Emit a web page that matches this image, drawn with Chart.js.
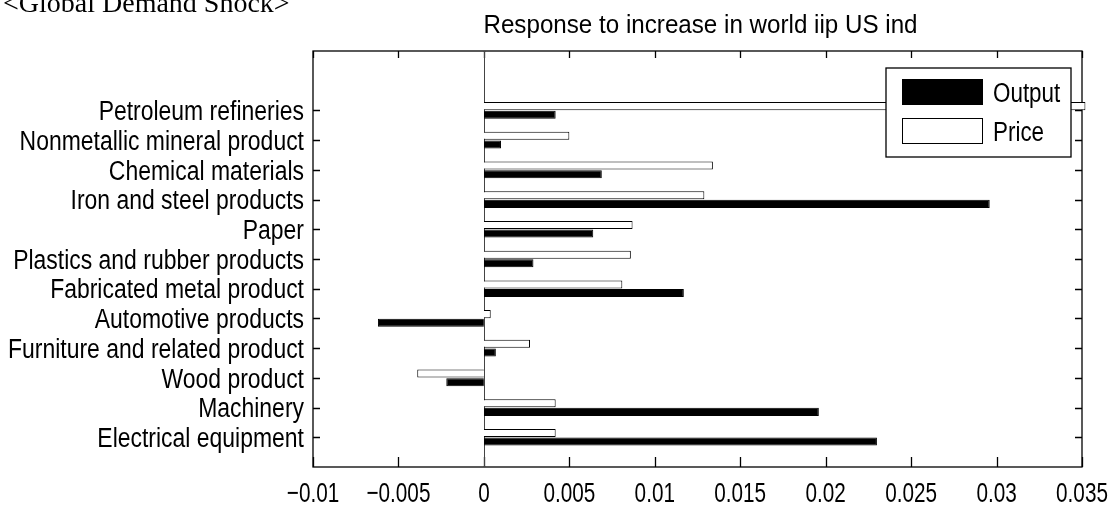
<!DOCTYPE html>
<html><head><meta charset="utf-8">
<script src="https://cdn.jsdelivr.net/npm/chart.js@4"></script>
<style>html,body{margin:0;padding:0;background:#fff;overflow:hidden}#wrap{width:1113px;height:508px}</style>
</head><body><div id="wrap"><canvas id="c" width="1113" height="508"></canvas></div>
<script>
const categories = ['Petroleum refineries','Nonmetallic mineral product','Chemical materials','Iron and steel products','Paper','Plastics and rubber products','Fabricated metal product','Automotive products','Furniture and related product','Wood product','Machinery','Electrical equipment'];
const outputValues = [0.0042,0.0010,0.0069,0.0296,0.0064,0.0029,0.0117,-0.0062,0.0007,-0.0022,0.0196,0.0230];
const priceValues = [0.0352,0.0050,0.0134,0.0129,0.0087,0.0086,0.0081,0.0004,0.0027,-0.0039,0.0042,0.0042];
const xTicks = [-0.01,-0.005,0,0.005,0.01,0.015,0.02,0.025,0.03,0.035];
const seriesNames = ['Output','Price'];
const chartTitle = 'Response to increase in world iip US ind';
const panelTitle = '<Global Demand Shock>';

const FONT = "'Liberation Sans', Arial, sans-serif";
const n = categories.length;
const toPts = vals => vals.map((v, i) => ({x: v, y: n - i}));
const fmtTick = v => String(Number(v.toFixed(3))).replace('-', '\u2212');

function squeezeText(ctx, text, x, y, size, f, align) {
  ctx.save();
  ctx.font = size + 'px ' + FONT;
  ctx.fillStyle = '#000';
  ctx.textBaseline = 'alphabetic';
  ctx.textAlign = align;
  ctx.translate(x, y);
  ctx.scale(f, 1);
  ctx.fillText(text, 0, 0);
  ctx.restore();
}

const framePlugin = {
  id: 'frame',
  beforeDatasetsDraw(chart) {
    const {ctx, chartArea: a, scales: {x, y}} = chart;
    ctx.save();
    ctx.strokeStyle = '#000'; ctx.lineWidth = 1.3;
    ctx.strokeRect(a.left, a.top, a.right - a.left, a.bottom - a.top);
    ctx.beginPath();
    x.ticks.forEach(t => {
      const px = Math.round(x.getPixelForValue(t.value)) + 0.5;
      ctx.moveTo(px, a.bottom); ctx.lineTo(px, a.bottom - 10);
      ctx.moveTo(px, a.top); ctx.lineTo(px, a.top + 7);
    });
    y.ticks.forEach(t => {
      const py = Math.round(y.getPixelForValue(t.value)) + 0.5;
      ctx.moveTo(a.left, py); ctx.lineTo(a.left + 7, py);
      ctx.moveTo(a.right, py); ctx.lineTo(a.right - 7, py);
    });
    ctx.stroke();
    const x0 = Math.round(x.getPixelForValue(0)) + 0.5;
    ctx.strokeStyle = '#444'; ctx.lineWidth = 1;
    ctx.beginPath(); ctx.moveTo(x0, a.top); ctx.lineTo(x0, a.bottom); ctx.stroke();
    ctx.restore();
  },
  afterDraw(chart) {
    const {ctx, chartArea: a, scales: {x, y}} = chart;
    y.ticks.forEach(t => {
      const py = y.getPixelForValue(t.value);
      squeezeText(ctx, categories[n - t.value], a.left - 9, py + 9.7, 27, 0.85, 'right');
    });
    x.ticks.forEach(t => {
      const px = x.getPixelForValue(t.value);
      squeezeText(ctx, fmtTick(t.value), px, a.bottom + 34.5, 28, 0.74, 'center');
    });
    ctx.save();
    ctx.fillStyle = '#000';
    ctx.font = "28px 'Liberation Serif', 'Times New Roman', serif";
    ctx.textAlign = 'left'; ctx.textBaseline = 'alphabetic';
    ctx.fillText(panelTitle, 3, 12);
    ctx.restore();
    squeezeText(ctx, chartTitle, (a.left + a.right) / 2 + 3, 32.5, 26, 0.93, 'center');
    ctx.save();
    const lx = a.right - 196, ly = a.top + 17, lw = 185, lh = 89;
    ctx.fillStyle = '#fff'; ctx.fillRect(lx, ly, lw, lh);
    ctx.strokeStyle = '#000'; ctx.lineWidth = 1.3; ctx.strokeRect(lx, ly, lw, lh);
    const order = [1, 0];
    order.forEach((di, k) => {
      const ds = chart.data.datasets[di];
      const sy = ly + 11 + k * 39;
      ctx.fillStyle = ds.backgroundColor; ctx.fillRect(lx + 16, sy, 81, 26);
      ctx.strokeStyle = '#000'; ctx.lineWidth = 1; ctx.strokeRect(lx + 16.5, sy + 0.5, 80, 25);
      squeezeText(ctx, ds.label, lx + 107, sy + 13 + 9.7, 27, 0.83, 'left');
    });
    ctx.restore();
  }
};

new Chart(document.getElementById('c'), {
  type: 'bar',
  data: {
    datasets: [
      {label: seriesNames[1], data: toPts(priceValues), backgroundColor: '#ffffff', borderColor: '#000', borderWidth: 1, clip: false},
      {label: seriesNames[0], data: toPts(outputValues), backgroundColor: '#000000', borderColor: '#000', borderWidth: 1, clip: false}
    ]
  },
  options: {
    indexAxis: 'y',
    responsive: false,
    animation: false,
    devicePixelRatio: 1,
    categoryPercentage: 0.58,
    barPercentage: 0.93,
    layout: {padding: {top: 51, right: 31, left: 0, bottom: 0}},
    plugins: {legend: {display: false}, tooltip: {enabled: false}, title: {display: false}},
    scales: {
      x: {
        type: 'linear', min: xTicks[0], max: xTicks[xTicks.length - 1], offset: false,
        afterBuildTicks: s => { s.ticks = xTicks.map(v => ({value: v})); },
        afterFit: s => { s.height = 41; },
        grid: {display: false, drawTicks: false}, border: {display: false},
        ticks: {display: false, autoSkip: false, callback: fmtTick}
      },
      y: {
        type: 'linear', min: 0, max: n + 2, offset: false,
        afterBuildTicks: s => { s.ticks = categories.map((c, i) => ({value: n - i})); },
        afterFit: s => { s.width = 313; },
        grid: {display: false, drawTicks: false}, border: {display: false},
        ticks: {display: false, autoSkip: false, callback: v => categories[n - v]}
      }
    }
  },
  plugins: [framePlugin]
});
</script></body></html>
